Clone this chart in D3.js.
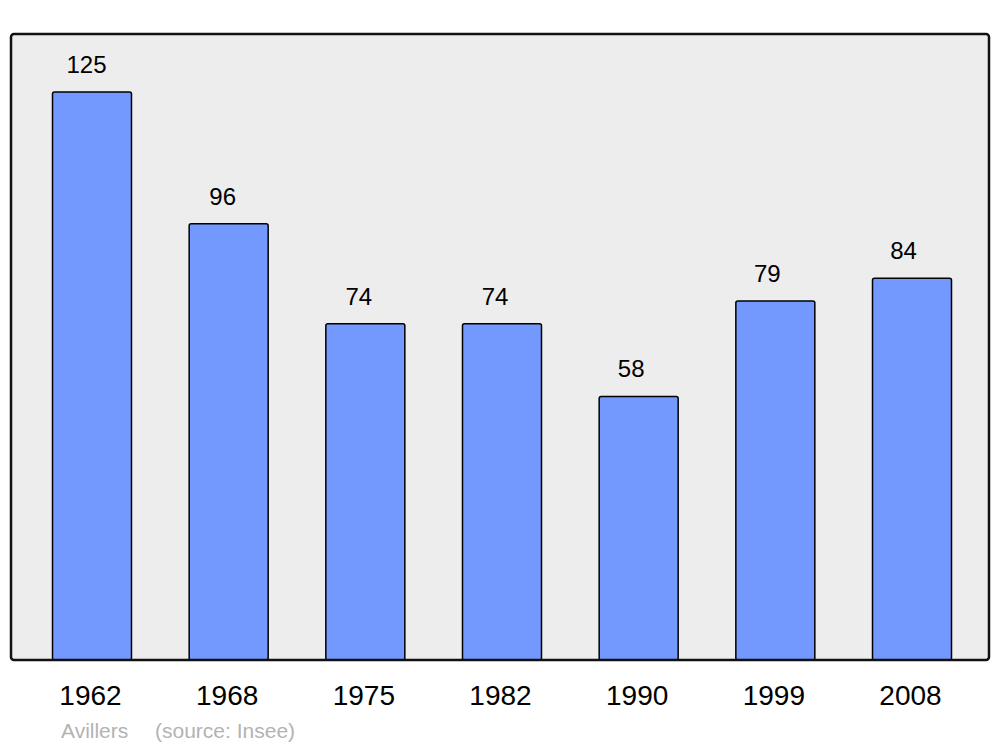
<!DOCTYPE html>
<html>
<head>
<meta charset="utf-8">
<script src="https://cdn.jsdelivr.net/npm/d3@7"></script>
<style>
html,body{margin:0;padding:0;background:#fff;}
svg{display:block;font-family:"Liberation Sans",Arial,sans-serif;}
</style>
</head>
<body>
<svg id="chart" width="1000" height="747"></svg>
<script>
const years = ["1962","1968","1975","1982","1990","1999","2008"];
const population = [125,96,74,74,58,79,84];
const commune = "Avillers";
const source = "(source: Insee)";

const svg = d3.select("#chart");
const x = d3.scaleBand().domain(years).range([52.5,951.5]).paddingInner(0.422).paddingOuter(0);
const y = d3.scaleLinear().domain([0,125]).range([660,92]);

// panel background
svg.append("rect").attr("x",11).attr("y",34).attr("width",978).attr("height",626)
  .attr("rx",3).attr("fill","#ededed");

// bars
svg.selectAll("rect.bar").data(years).enter().append("rect")
  .attr("class","bar")
  .attr("x",d=>x(d))
  .attr("y",(d,i)=>y(population[i]))
  .attr("width",x.bandwidth())
  .attr("height",(d,i)=>y(0)-y(population[i]))
  .attr("rx",2)
  .attr("fill","#7399ff")
  .attr("stroke","#000")
  .attr("stroke-width",1.5);

// panel border
svg.append("rect").attr("x",11).attr("y",34).attr("width",978).attr("height",626)
  .attr("rx",3).attr("fill","none").attr("stroke","#111").attr("stroke-width",2.5);

// value labels
svg.selectAll("text.val").data(years).enter().append("text")
  .attr("class","val")
  .attr("x",(d,i)=>x(d)+x.bandwidth()/2-5.5-i*0.5)
  .attr("y",(d,i)=>y(population[i])-19)
  .attr("text-anchor","middle")
  .attr("font-size",24)
  .attr("fill","#000")
  .text((d,i)=>population[i]);

// year axis labels
const axis = d3.axisBottom(x).tickSize(0).tickPadding(0);
const g = svg.append("g").attr("transform","translate(-1.5,0)").call(axis);
g.select(".domain").remove();
g.selectAll(".tick text").attr("y",705).attr("dy",null)
  .attr("font-size",28).attr("fill","#000").attr("font-family","'Liberation Sans',Arial,sans-serif");

// footer
svg.append("text").attr("x",61).attr("y",738).attr("font-size",21).attr("fill","#b3b3b3").text(commune);
svg.append("text").attr("x",155).attr("y",738).attr("font-size",21).attr("fill","#b3b3b3").text(source);
</script>
</body>
</html>
